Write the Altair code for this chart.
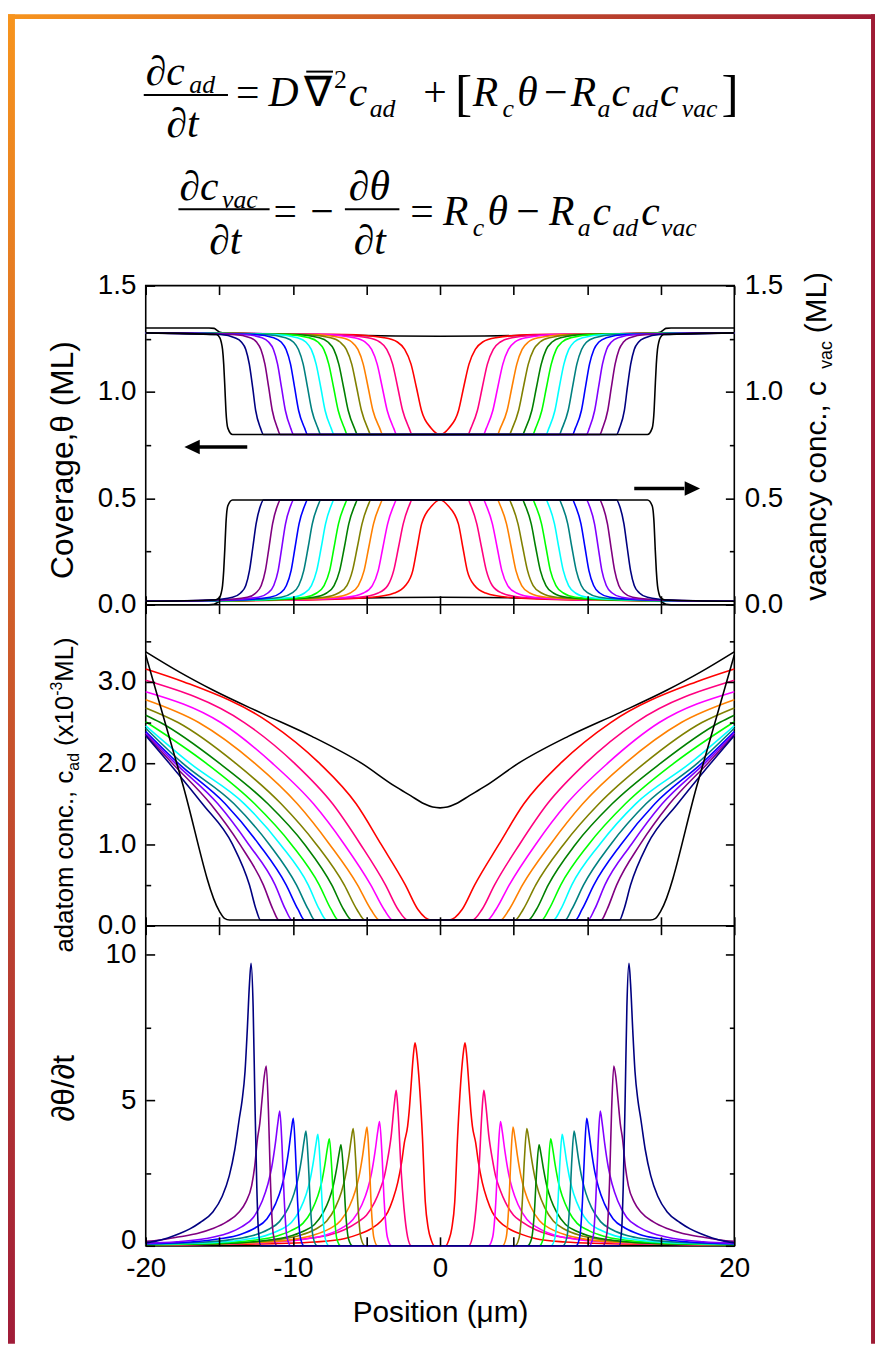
import altair as alt
import pandas as pd

# ---------------- curves & colours ----------------
CURVES = ["red", "crimson", "magenta", "orange", "olive", "dkgreen", "green",
          "cyan", "teal", "blue", "violet", "purple", "navy", "black_end"]
CURVE_COLORS = ["#FF0000", "#FF0080", "#FF00FF", "#FF8000", "#808000", "#008000",
                "#00FF00", "#00FFFF", "#008080", "#0000FF", "#8000FF", "#800080",
                "#000080", "#000000"]
SERIES_ALL = ["black_start"] + CURVES
COLORS_ALL = ["#000000"] + CURVE_COLORS

# ---------------- panel 1 : coverage theta (right half, x at given levels) ----------------
THETA_LEVELS = [0.80, 0.83, 0.913, 1.02, 1.131, 1.20, 1.235, 1.255, 1.27]
THETA_EDGE = 1.278
THETA_X = {
    "red":       [0.0, 0.6, 1.26, 1.6, 1.97, 2.4, 2.9, 3.8, 6.4],
    "crimson":   [1.9, 2.1, 2.54, 2.87, 3.22, 3.62, 4.1, 4.9, 7.3],
    "magenta":   [2.95, 3.15, 3.59, 3.92, 4.27, 4.65, 5.1, 5.85, 8.0],
    "orange":    [3.9, 4.1, 4.56, 4.88, 5.22, 5.58, 6.0, 6.7, 8.7],
    "olive":     [4.7, 4.92, 5.34, 5.66, 6.0, 6.37, 6.8, 7.45, 9.3],
    "dkgreen":   [5.6, 5.82, 6.24, 6.55, 6.88, 7.22, 7.62, 8.2, 9.9],
    "green":     [6.3, 6.5, 6.92, 7.23, 7.56, 7.9, 8.3, 8.9, 10.5],
    "cyan":      [7.2, 7.4, 7.81, 8.1, 8.42, 8.75, 9.12, 9.7, 11.2],
    "teal":      [8.1, 8.3, 8.71, 9.0, 9.3, 9.62, 9.97, 10.5, 11.9],
    "blue":      [9.0, 9.2, 9.61, 9.88, 10.16, 10.46, 10.8, 11.3, 12.6],
    "violet":    [9.95, 10.15, 10.51, 10.77, 11.04, 11.32, 11.65, 12.1, 13.3],
    "purple":    [10.85, 11.05, 11.4, 11.64, 11.9, 12.17, 12.47, 12.9, 14.0],
    "navy":      [12.0, 12.2, 12.53, 12.73, 12.96, 13.2, 13.5, 13.95, 14.9],
    "black_end": [14.1, 14.42, 14.55, 14.62, 14.7, 14.78, 14.87, 14.97, 15.2],
}
THETA_START = [(0, 1.262), (3, 1.263), (6, 1.266), (9, 1.270), (12, 1.274), (14.6, 1.278),
               (14.95, 1.281), (15.15, 1.29), (15.35, 1.299), (15.7, 1.301), (20, 1.301)]

# ---------------- panel 1 : vacancy concentration ----------------
CVAC_LEVELS = [0.492, 0.465, 0.38, 0.27, 0.16, 0.09, 0.055, 0.035, 0.022]
CVAC_EDGE = 0.016
CVAC_X = {
    "red":       [0.0, 0.55, 1.25, 1.55, 1.85, 2.35, 3.1, 4.6, 9.0],
    "crimson":   [1.9, 2.1, 2.5, 2.82, 3.15, 3.55, 4.2, 5.5, 9.8],
    "magenta":   [2.95, 3.15, 3.56, 3.88, 4.2, 4.6, 5.2, 6.4, 10.4],
    "orange":    [3.9, 4.1, 4.52, 4.84, 5.16, 5.55, 6.1, 7.2, 11.0],
    "olive":     [4.7, 4.9, 5.3, 5.62, 5.95, 6.33, 6.9, 7.9, 11.5],
    "dkgreen":   [5.6, 5.8, 6.2, 6.5, 6.82, 7.2, 7.7, 8.6, 12.0],
    "green":     [6.3, 6.5, 6.9, 7.2, 7.5, 7.88, 8.38, 9.2, 12.5],
    "cyan":      [7.2, 7.4, 7.78, 8.07, 8.38, 8.74, 9.2, 10.0, 13.0],
    "teal":      [8.1, 8.3, 8.68, 8.96, 9.26, 9.6, 10.05, 10.8, 13.5],
    "blue":      [9.0, 9.2, 9.58, 9.85, 10.12, 10.44, 10.85, 11.55, 14.0],
    "violet":    [9.95, 10.15, 10.5, 10.75, 11.0, 11.3, 11.7, 12.35, 14.6],
    "purple":    [10.85, 11.05, 11.38, 11.62, 11.87, 12.15, 12.52, 13.1, 15.1],
    "navy":      [12.0, 12.2, 12.5, 12.72, 12.95, 13.2, 13.55, 14.1, 15.6],
    "black_end": [14.1, 14.42, 14.55, 14.62, 14.7, 14.78, 14.87, 14.97, 15.3],
}
CVAC_START = [(0, 0.035), (3, 0.034), (6, 0.031), (9, 0.028), (12, 0.024), (14.6, 0.02),
              (14.95, 0.017), (15.15, 0.009), (15.35, 0.002), (15.7, 0.0), (20, 0.0)]

# ---------------- panel 2 : adatom concentration ----------------
CAD_LEVELS = [0.07, 0.2, 0.5, 1.0, 1.5, 2.0, 2.5, 3.0]
CAD_X = {
    "red":     [0.63, 1.5, 2.35, 4.0, 5.7, 8.2, 11.6, 17.4],
    "crimson": [2.2, 2.85, 3.7, 5.4, 7.3, 9.9, 13.3, None],
    "magenta": [3.2, 3.8, 4.7, 6.5, 8.6, 11.4, 14.9, None],
    "orange":  [4.1, 4.7, 5.6, 7.5, 9.7, 12.6, 16.4, None],
    "olive":   [5.1, 5.65, 6.5, 8.4, 10.8, 13.9, 17.8, None],
    "dkgreen": [6.0, 6.55, 7.35, 9.2, 11.7, 15.0, 19.0, None],
    "green":   [6.9, 7.4, 8.2, 10.1, 12.6, 15.9, None, None],
    "cyan":    [7.7, 8.2, 8.95, 10.85, 13.3, 17.0, None, None],
    "teal":    [8.5, 8.95, 9.75, 11.6, 14.0, 17.5, None, None],
    "blue":    [9.2, 9.65, 10.45, 12.3, 14.6, 17.8, None, None],
    "violet":  [10.05, 10.5, 11.2, 13.0, 15.1, 18.0, None, None],
    "purple":  [10.95, 11.35, 12.0, 13.6, 15.6, 18.2, None, None],
    "navy":    [12.2, 12.5, 12.95, 14.1, 16.15, 18.4, None, None],
}
CAD_EDGE = {"red": 3.16, "crimson": 3.02, "magenta": 2.88, "orange": 2.78, "olive": 2.68,
            "dkgreen": 2.59, "green": 2.51, "cyan": 2.46, "teal": 2.43, "blue": 2.39,
            "violet": 2.37, "purple": 2.35, "navy": 2.34}
CAD_BLACK_END = [(0, 0.07), (14.3, 0.07), (14.65, 0.09), (15.0, 0.18), (17.5, 1.75), (20, 3.33)]
CAD_BLACK_START = [(0, 1.45), (0.5, 1.46), (1.08, 1.50), (2.0, 1.6), (3.1, 1.72), (5.34, 2.0),
                   (8.71, 2.33), (12.07, 2.61), (15.44, 2.90), (17.7, 3.12), (20, 3.37)]

# ---------------- panel 3 : d(theta)/dt (right half) ----------------
RATE = {
    "red": [(0, 0), (0.38, 0), (0.6, 0.2), (0.8, 0.6), (1.0, 1.5), (1.2, 3.8), (1.45, 5.9), (1.6, 6.7),
            (1.7, 6.98), (1.82, 6.5), (1.97, 5.48), (2.1, 4.6), (2.2, 4.11), (2.42, 3.55), (2.6, 2.9),
            (2.87, 2.18), (3.2, 1.6), (3.55, 1.16), (4.0, 0.85), (4.67, 0.59), (5.5, 0.4), (6.46, 0.25),
            (8.5, 0.13), (11, 0.08), (15, 0.05), (20, 0.03)],
    "crimson": [(0, 0), (1.95, 0), (2.2, 0.3), (2.45, 1.3), (2.65, 2.64), (2.85, 4.6), (2.98, 5.34),
                (3.1, 4.9), (3.32, 3.77), (3.55, 3.0), (3.77, 2.41), (4.1, 1.9), (4.44, 1.5), (5.0, 1.05),
                (5.57, 0.82), (6.5, 0.55), (7.59, 0.36), (9, 0.25), (11, 0.15), (14, 0.08), (17, 0.05),
                (20, 0.03)],
    "magenta": [(0, 0), (3.3, 0), (3.58, 0.3), (3.79, 1.49), (3.95, 3.2), (4.11, 4.27), (4.23, 3.93),
                (4.41, 3.25), (4.66, 2.48), (4.91, 1.96), (5.31, 1.41), (5.91, 0.9), (6.71, 0.6),
                (7.71, 0.38), (9.11, 0.23), (11.11, 0.13), (15, 0.06), (20, 0.03)],
    "orange": [(0, 0), (4.25, 0), (4.5, 0.29), (4.68, 1.43), (4.82, 3.06), (4.96, 4.08), (5.08, 3.75),
               (5.26, 3.1), (5.51, 2.37), (5.76, 1.88), (6.16, 1.35), (6.76, 0.86), (7.56, 0.57),
               (8.56, 0.37), (9.96, 0.22), (11.96, 0.12), (16, 0.05), (20, 0.03)],
    "olive": [(0, 0), (5.1, 0), (5.38, 0.28), (5.58, 1.41), (5.74, 3.02), (5.9, 4.03), (6.02, 3.71),
              (6.2, 3.06), (6.45, 2.34), (6.7, 1.85), (7.1, 1.33), (7.7, 0.85), (8.5, 0.56), (9.5, 0.36),
              (10.9, 0.22), (12.9, 0.12), (17, 0.05), (20, 0.03)],
    "dkgreen": [(0, 0), (5.95, 0), (6.22, 0.24), (6.42, 1.21), (6.57, 2.6), (6.73, 3.47), (6.85, 3.19),
                (7.03, 2.64), (7.28, 2.01), (7.53, 1.6), (7.93, 1.15), (8.53, 0.73), (9.33, 0.49),
                (10.33, 0.31), (11.73, 0.19), (13.73, 0.1), (17.5, 0.05), (20, 0.03)],
    "green": [(0, 0), (6.75, 0), (7.02, 0.26), (7.21, 1.29), (7.37, 2.76), (7.52, 3.68), (7.64, 3.39),
              (7.82, 2.8), (8.07, 2.13), (8.32, 1.69), (8.72, 1.21), (9.32, 0.77), (10.12, 0.52),
              (11.12, 0.33), (12.52, 0.2), (14.52, 0.11), (18, 0.05), (20, 0.04)],
    "cyan": [(0, 0), (7.55, 0), (7.81, 0.27), (8.0, 1.34), (8.15, 2.87), (8.3, 3.83), (8.42, 3.52),
             (8.6, 2.91), (8.85, 2.22), (9.1, 1.76), (9.5, 1.26), (10.1, 0.8), (10.9, 0.54), (11.9, 0.34),
             (13.3, 0.21), (15.3, 0.11), (20, 0.05)],
    "teal": [(0, 0), (8.35, 0), (8.62, 0.28), (8.81, 1.38), (8.96, 2.96), (9.11, 3.94), (9.23, 3.62),
             (9.41, 2.99), (9.66, 2.29), (9.91, 1.81), (10.31, 1.3), (10.91, 0.83), (11.71, 0.55),
             (12.71, 0.35), (14.11, 0.22), (16.11, 0.12), (20, 0.06)],
    "blue": [(0, 0), (9.25, 0), (9.5, 0.31), (9.68, 1.53), (9.83, 3.29), (9.97, 4.38), (10.09, 4.03),
             (10.27, 3.33), (10.52, 2.54), (10.77, 2.01), (11.17, 1.45), (11.77, 0.92), (12.57, 0.61),
             (13.57, 0.39), (14.97, 0.24), (16.97, 0.13), (20, 0.07)],
    "violet": [(0, 0), (10.15, 0), (10.41, 0.32), (10.59, 1.62), (10.74, 3.47), (10.89, 4.63),
               (11.01, 4.26), (11.19, 3.52), (11.44, 2.69), (11.69, 2.13), (12.09, 1.53), (12.69, 0.97),
               (13.49, 0.65), (14.49, 0.42), (15.89, 0.25), (17.89, 0.14), (20, 0.09)],
    "purple": [(0, 0), (11.08, 0), (11.34, 0.43), (11.52, 2.16), (11.66, 4.64), (11.81, 6.18),
               (11.95, 5.8), (12.1, 5.0), (12.25, 4.2), (12.41, 3.66), (12.6, 2.7), (12.8, 2.07),
               (13.2, 1.5), (13.65, 1.16), (14.5, 0.82), (15.44, 0.59), (16.5, 0.42), (17.69, 0.31),
               (19, 0.2), (20, 0.15)],
    "navy": [(0, 0), (12.18, 0), (12.35, 0.6), (12.45, 2.0), (12.58, 5.0), (12.7, 8.2), (12.84, 9.71),
             (12.95, 9.0), (13.1, 7.4), (13.25, 6.0), (13.45, 5.0), (13.65, 4.34), (13.95, 3.3),
             (14.32, 2.41), (14.8, 1.7), (15.44, 1.16), (16.3, 0.8), (17.0, 0.58), (17.69, 0.42),
             (18.5, 0.27), (19.3, 0.16), (20, 0.1)],
    "black_end": [(0, 0), (20, 0)],
}

# ---------------- annotation arrows (panel 1, data units) ----------------
ARROW_LEFT = {"shaft": (-16.4, -13.1), "head": -16.85, "v": 0.741}
ARROW_RIGHT = {"shaft": (13.2, 16.6), "head": 17.15, "v": 0.546}


# ---------------- helpers ----------------
def mirror(pts):
    left = [(-x, v) for x, v in reversed(pts) if x > 0]
    return left + list(pts)


def level_curve(xs, levels, edge):
    pts = []
    if xs[0] > 0:
        pts.append((0.0, levels[0]))
    for x, lv in zip(xs, levels):
        if x is not None:
            pts.append((x, lv))
    pts.append((20.0, edge))
    return pts


def add_rows(rows, pts, series, group):
    for x, v in mirror(pts):
        rows.append({"x": x, "v": v, "series": series, "key": group + "_" + series})


rows1 = []
add_rows(rows1, THETA_START, "black_start", "theta")
add_rows(rows1, CVAC_START, "black_start", "cvac")
for c in CURVES:
    add_rows(rows1, level_curve(THETA_X[c], THETA_LEVELS, THETA_EDGE), c, "theta")
    add_rows(rows1, level_curve(CVAC_X[c], CVAC_LEVELS, CVAC_EDGE), c, "cvac")
df1 = pd.DataFrame(rows1)

rows2 = []
add_rows(rows2, CAD_BLACK_START, "black_start", "cad")
for c in CURVES[:-1]:
    add_rows(rows2, level_curve(CAD_X[c], CAD_LEVELS, CAD_EDGE[c]), c, "cad")
add_rows(rows2, CAD_BLACK_END, "black_end", "cad")
df2 = pd.DataFrame(rows2)

rows3 = []
for c in ["black_end"] + CURVES[:-1]:
    add_rows(rows3, RATE[c], c, "rate")
df3 = pd.DataFrame(rows3)

# ---------------- layout (plot area is 594 x 969, split in three panels) ----------------
W, H = 594, 969
B1, B2 = 322, 646
XS = alt.Scale(domain=[-20, 20], nice=False, zero=False)
P1 = alt.Scale(domain=[0, 1.5], range=[B1, 0], nice=False, zero=False)
P2 = alt.Scale(domain=[0, 3.95], range=[B2, B1], nice=False, zero=False)
P3 = alt.Scale(domain=[0, 11], range=[H, B2], nice=False, zero=False)
COLOR = alt.Color("series:N", scale=alt.Scale(domain=SERIES_ALL, range=COLORS_ALL), legend=None)
DUMMY = pd.DataFrame({"x": [0.0], "v": [0.0]})
SANS = "Liberation Sans"
SERIF = "Liberation Serif"
OX, OY = 147, 282  # page position of plot origin
LABEL_SIZE = 28


def lines(df, ys):
    return alt.Chart(df).mark_line(strokeWidth=1.6, interpolate="monotone").encode(
        x=alt.X("x:Q", scale=XS, axis=None),
        y=alt.Y("v:Q", scale=ys, axis=None),
        color=COLOR,
        detail="key:N",
    )


def yax(orient, values, size, labels=False, fmt=".1f", lift_zero=False):
    kw = dict(orient=orient, values=values, tickSize=size, offset=-size, domain=False, grid=False,
              labels=labels, title=None, tickColor="black", tickWidth=1.6, zindex=1)
    if labels:
        kw.update(labelFont=SANS, labelFontSize=LABEL_SIZE, labelColor="black", labelPadding=10,
                  format=fmt)
        if lift_zero:
            kw.update(labelOffset={"condition": {"test": "datum.value === 0", "value": -5}, "value": 0})
    return alt.Axis(**kw)


X_TICKS = [-20, -15, -10, -5, 0, 5, 10, 15, 20]


def xax(orient, offset, labels=False, title=None):
    kw = dict(orient=orient, values=X_TICKS, tickSize=9, offset=offset, domain=False, grid=False,
              labels=labels, tickColor="black", tickWidth=1.6, zindex=1)
    if labels:
        kw.update(labelFont=SANS, labelFontSize=LABEL_SIZE, labelColor="black", labelPadding=9,
                  labelFlush=False, labelExpr="datum.value % 10 === 0 ? '' + datum.value : ''")
    if title:
        kw.update(title=title, titleFont=SANS, titleFontSize=30, titleFontWeight="normal",
                  titleColor="black", titlePadding=15)
    else:
        kw.update(title=None)
    return alt.Axis(**kw)


def axis_layer(ys, yaxis, xaxis=None):
    return alt.Chart(DUMMY).mark_point(opacity=0).encode(
        x=alt.X("x:Q", scale=XS, axis=xaxis),
        y=alt.Y("v:Q", scale=ys, axis=yaxis),
    )


y_axes = [
    (P1, yax("left", [0, 0.5, 1.0, 1.5], 9, True)),
    (P1, yax("left", [0.25, 0.75, 1.25], 5)),
    (P1, yax("right", [0, 0.5, 1.0, 1.5], 9, True)),
    (P1, yax("right", [0.25, 0.75, 1.25], 5)),
    (P2, yax("left", [0, 1, 2, 3], 9, True)),
    (P2, yax("left", [0.5, 1.5, 2.5, 3.5], 5)),
    (P2, yax("right", [0, 1, 2, 3], 9)),
    (P2, yax("right", [0.5, 1.5, 2.5, 3.5], 5)),
    (P3, yax("left", [0, 5, 10], 9, True, "d", lift_zero=True)),
    (P3, yax("left", [2.5, 7.5], 5)),
    (P3, yax("right", [0, 5, 10], 9)),
    (P3, yax("right", [2.5, 7.5], 5)),
]
x_axes = [
    xax("bottom", -9, True, "Position (\u03bcm)"),
    xax("top", -9),
    xax("bottom", (B1 - 9) - H),
    xax("top", -(B1 + 9)),
    xax("bottom", (B2 - 9) - H),
    xax("top", -(B2 + 9)),
]
axis_layers = []
for i, (ys, ya) in enumerate(y_axes):
    axis_layers.append(axis_layer(ys, ya, x_axes[i] if i < len(x_axes) else None))

bound_layers = [
    alt.Chart(DUMMY).mark_rule(color="black", strokeWidth=1.6).encode(
        y=alt.Y("v:Q", scale=ys, axis=None))
    for ys in (P1, P2)
]

# arrows
arrow_df = pd.DataFrame([
    {"x1": ARROW_LEFT["shaft"][0], "x2": ARROW_LEFT["shaft"][1], "v": ARROW_LEFT["v"]},
    {"x1": ARROW_RIGHT["shaft"][0], "x2": ARROW_RIGHT["shaft"][1], "v": ARROW_RIGHT["v"]},
])
shafts = alt.Chart(arrow_df).mark_rule(color="black", strokeWidth=3.5).encode(
    x=alt.X("x1:Q", scale=XS, axis=None), x2="x2:Q", y=alt.Y("v:Q", scale=P1, axis=None))
head_l = alt.Chart(pd.DataFrame([{"x": ARROW_LEFT["head"], "v": ARROW_LEFT["v"]}])).mark_point(
    shape="M -1 0 L 1 -0.95 L 1 0.95 Z", filled=True, size=240, color="black", opacity=1).encode(
    x=alt.X("x:Q", scale=XS, axis=None), y=alt.Y("v:Q", scale=P1, axis=None))
head_r = alt.Chart(pd.DataFrame([{"x": ARROW_RIGHT["head"], "v": ARROW_RIGHT["v"]}])).mark_point(
    shape="M 1 0 L -1 -0.95 L -1 0.95 Z", filled=True, size=240, color="black", opacity=1).encode(
    x=alt.X("x:Q", scale=XS, axis=None), y=alt.Y("v:Q", scale=P1, axis=None))

# ---------------- equations (page coordinates, baseline) ----------------
M, S = 42, 26
EQ_PIECES = [
    # text, page x, page baseline y, font size, italic
    ("\u2202c", 147, 80, M, True), ("ad", 191, 88, S, True), ("\u2202t", 168, 132, M, True),
    ("=", 238, 101, M, False), ("D", 271, 101, M, True), ("\u2207", 307, 101, M, False),
    ("2", 337, 83, S, False), ("c", 352, 101, M, True), ("ad", 373, 112, S, True),
    ("+", 427, 101, M, False), ("[", 459, 105, 52, False), ("R", 477, 101, M, True),
    ("c", 507, 112, S, True), ("\u03b8", 522, 101, M, True), ("\u2212", 549, 101, M, False),
    ("R", 576, 101, M, True), ("a", 603, 112, S, True), ("c", 617, 101, M, True),
    ("ad", 638, 112, S, True), ("c", 666, 101, M, True), ("vac", 688, 112, S, True),
    ("]", 728, 105, 52, False),
    ("\u2202c", 181, 196, M, True), ("vac", 224, 204, S, True), ("\u2202t", 211, 250, M, True),
    ("=", 276, 221, M, False), ("\u2212", 313, 221, M, False), ("\u2202\u03b8", 352, 196, M, True),
    ("\u2202t", 357, 250, M, True), ("=", 414, 221, M, False), ("R", 447, 221, M, True),
    ("c", 477, 232, S, True), ("\u03b8", 492, 221, M, True), ("\u2212", 521, 221, M, False),
    ("R", 554, 221, M, True), ("a", 583, 232, S, True), ("c", 598, 221, M, True),
    ("ad", 618, 232, S, True), ("c", 647, 221, M, True), ("vac", 667, 232, S, True),
]
EQ_BARS = [(145, 230, 89.5), (309, 336, 66), (180, 272, 205), (348, 403, 205)]

eq_df = pd.DataFrame([{"text": t, "px": x - OX, "py": y - OY, "size": s, "it": it}
                      for t, x, y, s, it in EQ_PIECES])
eq_it = alt.Chart(eq_df[eq_df["it"]]).mark_text(
    font=SERIF, fontStyle="italic", align="left", baseline="alphabetic", color="black").encode(
    x=alt.X("px:Q", scale=None), y=alt.Y("py:Q", scale=None),
    size=alt.Size("size:Q", scale=None, legend=None), text="text:N")
eq_up = alt.Chart(eq_df[~eq_df["it"]]).mark_text(
    font=SERIF, align="left", baseline="alphabetic", color="black").encode(
    x=alt.X("px:Q", scale=None), y=alt.Y("py:Q", scale=None),
    size=alt.Size("size:Q", scale=None, legend=None), text="text:N")
bar_df = pd.DataFrame([{"px": a - OX, "px2": b - OX, "py": y - OY} for a, b, y in EQ_BARS])
eq_bars = alt.Chart(bar_df).mark_rule(color="black", strokeWidth=2).encode(
    x=alt.X("px:Q", scale=None), x2="px2:Q", y=alt.Y("py:Q", scale=None))

# ---------------- rotated axis titles (page coords) ----------------
TITLE_PIECES = [
    # text, page x (baseline), page y (start, reading upward), size, align
    ("Coverage,\u03b8 (ML)", 74, 458, 32, "center"),
    ("\u2202\u03b8/\u2202t", 75, 1092, 32, "center"),
    ("adatom conc., c", 74, 955, 26, "left"),
    ("ad", 80, 771.5, 16, "left"),
    ("(x10", 74, 746.5, 26, "left"),
    ("-3", 63, 695.9, 16, "left"),
    ("ML)", 74, 681.7, 26, "left"),
    ("vacancy conc., c", 834, 600, 30, "left"),
    ("vac", 840, 366, 18, "left"),
    ("(ML)", 834, 330, 30, "left"),
]
tdf = pd.DataFrame([{"text": t, "px": x - OX, "py": y - OY, "size": s, "al": a}
                    for t, x, y, s, a in TITLE_PIECES])
titles = []
for al in ("center", "left"):
    titles.append(alt.Chart(tdf[tdf["al"] == al]).mark_text(
        font=SANS, angle=270, align=al, baseline="alphabetic", color="black").encode(
        x=alt.X("px:Q", scale=None), y=alt.Y("py:Q", scale=None),
        size=alt.Size("size:Q", scale=None, legend=None), text="text:N"))

# ---------------- gradient frame strips ----------------
ORANGE, CRIMSON = "#F7941D", "#9E1B34"
strip_top = alt.Chart(DUMMY).mark_rect(strokeWidth=0, fill={
    "gradient": "linear", "x1": 0, "y1": 0, "x2": 1, "y2": 0,
    "stops": [{"offset": 0, "color": ORANGE}, {"offset": 1, "color": CRIMSON}]}).encode(
    x=alt.value(-139), x2=alt.value(736), y=alt.value(-274), y2=alt.value(-269))
strip_left = alt.Chart(DUMMY).mark_rect(strokeWidth=0, fill={
    "gradient": "linear", "x1": 0, "y1": 0, "x2": 0, "y2": 1,
    "stops": [{"offset": 0, "color": ORANGE}, {"offset": 1, "color": "#A01C38"}]}).encode(
    x=alt.value(-139), x2=alt.value(-132), y=alt.value(-274), y2=alt.value(1068))
strip_right = alt.Chart(DUMMY).mark_rect(strokeWidth=0, fill=CRIMSON).encode(
    x=alt.value(732), x2=alt.value(736), y=alt.value(-274), y2=alt.value(1068))

chart = alt.layer(
    strip_top, strip_left, strip_right,
    eq_it, eq_up, eq_bars, *titles,
    lines(df1, P1), lines(df2, P2), lines(df3, P3),
    shafts, head_l, head_r,
    *bound_layers,
    *axis_layers,
).resolve_scale(y="independent").resolve_axis(x="independent", y="independent").properties(
    width=W, height=H,
    autosize=alt.AutoSizeParams(type="none"),
    padding={"left": 139, "top": 274, "right": 142, "bottom": 99},
).configure(font=SANS, background="white").configure_view(stroke="black", strokeWidth=1.6)

chart.save("out.html", embed_options={"renderer": "svg", "actions": False})
